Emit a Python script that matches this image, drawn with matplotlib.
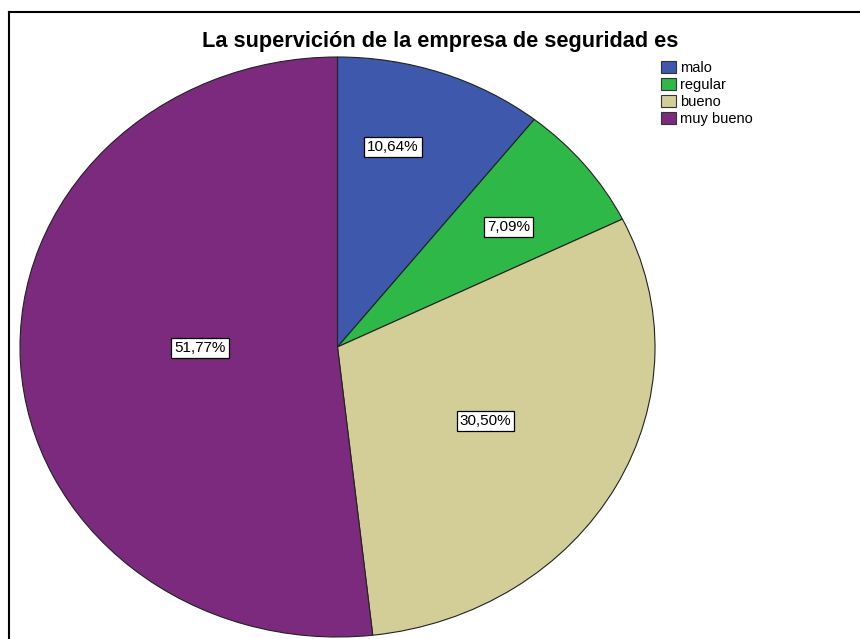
import matplotlib
matplotlib.use("Agg")
import matplotlib.pyplot as plt
import numpy as np
from matplotlib.patches import Patch

plt.rcParams['font.family'] = ['Liberation Sans', 'DejaVu Sans']

title = "La supervición de la empresa de seguridad es"
categories = ["malo", "regular", "bueno", "muy bueno"]
percentages = [10.64, 7.09, 30.50, 51.77]
colors = ["#3E58AC", "#2EB848", "#D3CE97", "#7B2A7E"]

# label placement (radial distance, angular offset in degrees)
label_dist = [0.71, 0.68, 0.532, 0.433]
label_shift = [4.9, -1.3, 0.0, -2.8]

W, H = 860, 639
fig = plt.figure(figsize=(W / 100, H / 100), dpi=100)

# frame lines (top and left visible)
fig.add_artist(plt.Line2D([9 / W, 9 / W], [0, 1 - 12 / H], color="black", lw=1.5,
                          transform=fig.transFigure))
fig.add_artist(plt.Line2D([9 / W, 1], [1 - 12 / H, 1 - 12 / H], color="black", lw=1.5,
                          transform=fig.transFigure))

left, right, top, bottom = 20, 655, 57, 637
ax = fig.add_axes([left / W, 1 - bottom / H, (right - left) / W, (bottom - top) / H])
wedges, _ = ax.pie(percentages, colors=colors, startangle=90, counterclock=False,
                   wedgeprops=dict(edgecolor="#222222", linewidth=0.8))
ax.set_aspect("auto")
ax.set_xlim(-1, 1)
ax.set_ylim(-1, 1)
ax.axis("off")

for w, p, d, s in zip(wedges, percentages, label_dist, label_shift):
    ang = np.deg2rad((w.theta1 + w.theta2) / 2 + s)
    ax.text(d * np.cos(ang), d * np.sin(ang), f"{p:.2f}%".replace(".", ","),
            ha="center", va="center", fontsize=11,
            bbox=dict(boxstyle="square,pad=0.2", facecolor="white", edgecolor="black", linewidth=0.9))

fig.text(0.5 * (200 + 680) / W, 1 - 42 / H, title, ha="center", va="center",
         fontsize=15.7, fontweight="bold")

handles = [Patch(facecolor=c, edgecolor="#333333", linewidth=0.8) for c in colors]
fig.legend(handles, categories, loc="upper left", bbox_to_anchor=(651 / W, 1 - 51 / H),
           frameon=False, fontsize=10.5, handlelength=1.0, handleheight=0.85,
           handletextpad=0.3, labelspacing=0.2, borderpad=0.2)

fig.savefig("out.png", dpi=100)
